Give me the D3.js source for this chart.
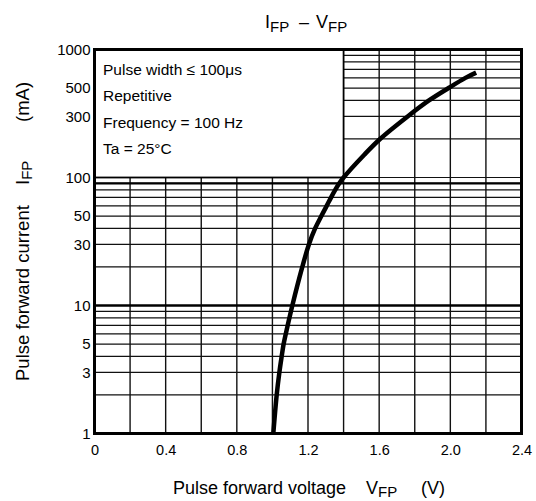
<!DOCTYPE html>
<html>
<head>
<meta charset="utf-8">
<script src="https://cdn.jsdelivr.net/npm/d3@7"></script>
<style>
  html, body { margin: 0; padding: 0; background: #fff; }
  svg { display: block; font-family: "Liberation Sans", Arial, sans-serif; }
</style>
</head>
<body>
<div id="chart"></div>
<script>
// Data (V in volts, I in mA)
const voltage = [1.005, 1.024, 1.039, 1.052, 1.063, 1.075, 1.086, 1.112, 1.168, 1.205, 1.240, 1.275, 1.305, 1.330, 1.353, 1.376, 1.400, 1.515, 1.605, 1.760, 1.880, 1.990, 2.085, 2.145];
const current = [1, 2, 3, 4, 5, 6, 7, 10, 20, 30, 40, 50, 60, 70, 80, 90, 100, 150, 200, 300, 400, 500, 600, 660];

const xTicks = [0, 0.4, 0.8, 1.2, 1.6, 2.0, 2.4];
const xTickLabels = ["0", "0.4", "0.8", "1.2", "1.6", "2.0", "2.4"];
const xGrid = [0.2, 0.4, 0.6, 0.8, 1.0, 1.2, 1.4, 1.6, 1.8, 2.0, 2.2];
const yTicks = [1, 3, 5, 10, 30, 50, 100, 300, 500, 1000];
const yHeavy = [10, 90];
const conditions = ["Pulse width \u2264 100\u03bcs", "Repetitive", "Frequency = 100 Hz", "Ta = 25\u00b0C"];

// Layout
const W = 536, H = 501;
const plot = { left: 94.5, right: 521.5, top: 49.5, bottom: 433.5 };
const boxEdgeV = 1.4;   // the condition box covers the upper-left decade
const boxEdgeI = 100;

const svg = d3.select("#chart").append("svg")
  .attr("width", W)
  .attr("height", H);

const x = d3.scaleLinear().domain([0, 2.4]).range([plot.left, plot.right]);
const y = d3.scaleLog().domain([1, 1000]).range([plot.bottom, plot.top]);

// minor horizontal lines 2..9 in each decade
const yMinor = [];
[1, 10, 100].forEach(d => { for (let k = 2; k <= 9; k++) yMinor.push(k * d); });

const grid = svg.append("g");

grid.selectAll(".hminor")
  .data(yMinor.concat([100]))
  .enter()
  .append("line")
    .attr("x1", d => d >= boxEdgeI ? x(boxEdgeV) : plot.left)
    .attr("x2", plot.right)
    .attr("y1", d => y(d))
    .attr("y2", d => y(d))
    .attr("stroke", "#111")
    .attr("stroke-width", 1.2);

grid.selectAll(".vgrid")
  .data(xGrid)
  .enter()
  .append("line")
    .attr("x1", d => x(d))
    .attr("x2", d => x(d))
    .attr("y1", d => d <= boxEdgeV ? y(boxEdgeI) : plot.top)
    .attr("y2", plot.bottom)
    .attr("stroke", "#111")
    .attr("stroke-width", 1.4);

grid.selectAll(".hheavy")
  .data(yHeavy)
  .enter()
  .append("line")
    .attr("x1", plot.left)
    .attr("x2", plot.right)
    .attr("y1", d => y(d))
    .attr("y2", d => y(d))
    .attr("stroke", "#000")
    .attr("stroke-width", 2.4);

// condition box
svg.append("rect")
  .attr("x", plot.left)
  .attr("y", plot.top)
  .attr("width", x(boxEdgeV) - plot.left)
  .attr("height", y(boxEdgeI) - plot.top)
  .attr("fill", "#fff")
  .attr("stroke", "#000")
  .attr("stroke-width", 1.8);

svg.append("g")
  .selectAll("text")
  .data(conditions)
  .enter()
  .append("text")
    .attr("x", 103)
    .attr("y", (d, i) => 74.5 + i * 26.5)
    .attr("font-size", 15.5)
    .attr("fill", "#000")
    .text(d => d);

// curve
const line = d3.line()
  .x(d => x(d[0]))
  .y(d => y(d[1]))
  .curve(d3.curveCatmullRom);

svg.append("path")
  .datum(voltage.map((v, i) => [v, current[i]]))
  .attr("fill", "none")
  .attr("stroke", "#000")
  .attr("stroke-width", 4.5)
  .attr("d", line);

// frame
svg.append("rect")
  .attr("x", plot.left)
  .attr("y", plot.top)
  .attr("width", plot.right - plot.left)
  .attr("height", plot.bottom - plot.top)
  .attr("fill", "none")
  .attr("stroke", "#000")
  .attr("stroke-width", 3);

// axes
const yAxis = svg.append("g")
  .attr("transform", `translate(${plot.left - 2},0)`)
  .call(d3.axisLeft(y).tickValues(yTicks).tickFormat(d3.format("d")).tickSize(0).tickPadding(2));
yAxis.select(".domain").remove();
yAxis.selectAll("text")
  .attr("font-family", "'Liberation Sans', Arial, sans-serif")
  .attr("font-size", 15)
  .attr("fill", "#000");

const xAxis = svg.append("g")
  .attr("transform", `translate(0,${plot.bottom + 2})`)
  .call(d3.axisBottom(x).tickValues(xTicks).tickFormat((d, i) => xTickLabels[i]).tickSize(0).tickPadding(9));
xAxis.select(".domain").remove();
xAxis.selectAll("text")
  .attr("font-family", "'Liberation Sans', Arial, sans-serif")
  .attr("font-size", 14.5)
  .attr("fill", "#000");

// title
const title = svg.append("text")
  .attr("y", 28)
  .attr("font-size", 18);
title.append("tspan").attr("x", 265).text("I");
title.append("tspan").attr("font-size", 15).attr("dy", 3.5).text("FP");
title.append("tspan").attr("x", 299).attr("dy", -3.5).text("\u2013");
title.append("tspan").attr("x", 316).text("V");
title.append("tspan").attr("font-size", 15).attr("dy", 3.5).text("FP");

// x axis title
const xt = svg.append("text")
  .attr("x", 173)
  .attr("y", 494)
  .attr("font-size", 18);
xt.append("tspan").text("Pulse forward voltage");
xt.append("tspan").attr("x", 366).text("V");
xt.append("tspan").attr("font-size", 15).attr("dy", 3).text("FP");
xt.append("tspan").attr("x", 421).attr("dy", -3).text("(V)");

// y axis title
const yt = svg.append("text")
  .attr("transform", "translate(29,0) rotate(-90)")
  .attr("font-size", 18.5);
yt.append("tspan").attr("x", -381).attr("y", 0).text("Pulse forward current");
yt.append("tspan").attr("x", -185).text("I");
yt.append("tspan").attr("font-size", 15).attr("dy", 3).text("FP");
yt.append("tspan").attr("x", -122).attr("dy", -3).text("(mA)");
</script>
</body>
</html>
